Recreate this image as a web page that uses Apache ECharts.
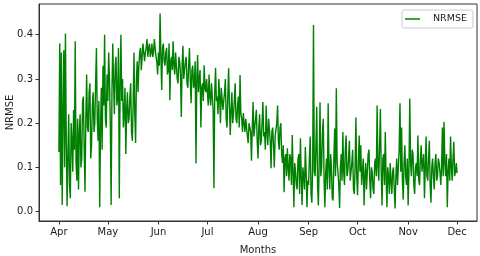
<!DOCTYPE html>
<html>
<head>
<meta charset="utf-8">
<script src="https://cdn.jsdelivr.net/npm/echarts@6/dist/echarts.min.js"></script>
<style>html,body{margin:0;padding:0;background:#fff}#c{width:480px;height:256px}</style>
</head>
<body>
<div id="c"></div>
<script>
// NRMSE values, two readings per day (index 0 = Apr 1, step = half a day)
var apr = [0.135,0.38, 0.06,0.36, 0.015,0.22, 0.365,0.10, 0.403,0.17, 0.012,0.12, 0.22,0.06, 0.03,0.20, 0.16,0.09, 0.23,0.14,
           0.385,0.11, 0.07,0.21, 0.05,0.18, 0.22,0.10, 0.12,0.25, 0.26,0.14, 0.045,0.21, 0.31,0.19, 0.18,0.27, 0.29,0.12,
           0.15,0.24, 0.27,0.18, 0.20,0.29, 0.37,0.21, 0.16,0.25, 0.01,0.19, 0.28,0.14, 0.33,0.24, 0.40,0.21, 0.19,0.31];
var may = [0.25,0.36, 0.30,0.20, 0.015,0.27, 0.38,0.29, 0.22,0.33, 0.35,0.24, 0.26,0.37, 0.03,0.28, 0.40,0.25, 0.30,0.19,
           0.22,0.28, 0.13,0.23, 0.27,0.20, 0.21,0.26, 0.29,0.18, 0.16,0.24, 0.36,0.22, 0.155,0.30, 0.34,0.27, 0.33,0.36,
           0.37,0.32, 0.35,0.38, 0.38,0.34, 0.36,0.37, 0.39,0.35, 0.37,0.38, 0.35,0.36, 0.38,0.35, 0.36,0.39, 0.39,0.35, 0.34,0.31];
var jun = [0.36,0.33, 0.448,0.35, 0.275,0.37, 0.38,0.34, 0.33,0.36, 0.37,0.31, 0.32,0.38, 0.252,0.34, 0.35,0.32, 0.385,0.33,
           0.31,0.36, 0.36,0.30, 0.29,0.35, 0.34,0.31, 0.214,0.33, 0.375,0.30, 0.30,0.34, 0.35,0.29, 0.28,0.33, 0.37,0.30,
           0.245,0.32, 0.33,0.28, 0.29,0.34, 0.109,0.30, 0.354,0.27, 0.30,0.32, 0.19,0.28, 0.29,0.25, 0.331,0.28, 0.27,0.30];
var jul = [0.27,0.24, 0.31,0.26, 0.24,0.29, 0.29,0.23, 0.053,0.27, 0.325,0.25, 0.26,0.22, 0.30,0.26, 0.20,0.28, 0.28,0.23,
           0.23,0.27, 0.30,0.21, 0.19,0.26, 0.324,0.24, 0.173,0.23, 0.27,0.20, 0.22,0.25, 0.29,0.21, 0.20,0.24, 0.26,0.19,
           0.309,0.22, 0.21,0.18, 0.223,0.20, 0.18,0.21, 0.21,0.17, 0.155,0.20, 0.20,0.18, 0.115,0.19, 0.248,0.17, 0.19,0.21, 0.23,0.16];
var aug = [0.12,0.19, 0.22,0.15, 0.16,0.20, 0.248,0.17, 0.18,0.14, 0.24,0.18, 0.15,0.21, 0.21,0.16, 0.098,0.18, 0.19,0.15,
           0.10,0.17, 0.17,0.20, 0.24,0.16, 0.14,0.19, 0.20,0.13, 0.11,0.15, 0.044,0.12, 0.13,0.08, 0.143,0.10, 0.07,0.13,
           0.12,0.06, 0.173,0.09, 0.01,0.11, 0.09,0.06, 0.05,0.12, 0.13,0.04, 0.166,0.08, 0.015,0.10, 0.08,0.05, 0.146,0.09, 0.01,0.07];
var sep = [0.06,0.12, 0.17,0.04, 0.02,0.10, 0.422,0.09, 0.08,0.15, 0.237,0.06, 0.014,0.11, 0.247,0.08, 0.10,0.18, 0.21,0.07,
           0.01,0.09, 0.12,0.05, 0.245,0.10, 0.05,0.13, 0.10,0.03, 0.025,0.12, 0.188,0.08, 0.279,0.11, 0.09,0.06, 0.008,0.10,
           0.13,0.07, 0.18,0.09, 0.06,0.14, 0.172,0.08, 0.09,0.12, 0.16,0.07, 0.07,0.11, 0.14,0.05, 0.04,0.10, 0.213,0.08];
var oct = [0.037,0.11, 0.172,0.09, 0.15,0.06, 0.06,0.12, 0.014,0.08, 0.11,0.05, 0.05,0.13, 0.14,0.07, 0.03,0.10, 0.09,0.05,
           0.04,0.11, 0.12,0.08, 0.24,0.10, 0.07,0.15, 0.232,0.09, 0.014,0.12, 0.13,0.06, 0.18,0.08, 0.01,0.10, 0.08,0.04,
           0.11,0.07, 0.04,0.09, 0.10,0.05, 0.007,0.08, 0.12,0.06, 0.06,0.14, 0.245,0.09, 0.19,0.07, 0.027,0.11, 0.15,0.08, 0.06,0.12];
var nov = [0.014,0.09, 0.256,0.11, 0.08,0.14, 0.13,0.06, 0.04,0.10, 0.11,0.08, 0.172,0.07, 0.06,0.12, 0.15,0.09, 0.09,0.13,
           0.03,0.10, 0.17,0.08, 0.07,0.12, 0.16,0.06, 0.02,0.10, 0.12,0.08, 0.05,0.11, 0.13,0.07, 0.08,0.12, 0.11,0.09,
           0.06,0.10, 0.19,0.08, 0.203,0.11, 0.08,0.13, 0.01,0.09, 0.12,0.07, 0.17,0.10, 0.07,0.12, 0.158,0.08, 0.09,0.11];
var dec = [0.087];

var monthLabels = ['Apr','May','Jun','Jul','Aug','Sep','Oct','Nov','Dec'];
var monthStarts = [0,30,61,91,122,153,183,214,244];
var yTicks = [0.0,0.1,0.2,0.3,0.4];

var all = [].concat(apr, may, jun, jul, aug, sep, oct, nov, dec);
var data = all.map(function(v, i){ return [i / 2, v]; });

var font = 'DejaVu Sans';
var txt = '#1a1a1a';
var chart = echarts.init(document.getElementById('c'), null, {renderer:'canvas'});
chart.setOption({
  animation: false,
  backgroundColor: '#fff',
  grid: {left: 39, top: 4, right: 3, bottom: 35, show: true, borderColor: '#333', borderWidth: 1, containLabel: false, outerBoundsMode: 'none'},
  legend: {
    show: true, left: 402, top: 10,
    data: [{name: 'NRMSE', icon: 'rect'}],
    itemWidth: 15, itemHeight: 1.5,
    padding: [4, 6, 4, 3],
    borderColor: '#ccc', borderWidth: 1, borderRadius: 2, backgroundColor: '#fff',
    textStyle: {fontFamily: font, fontSize: 9.5, color: txt, padding: [0,0,0,8]}
  },
  xAxis: {
    type: 'value', min: -12.2, max: 256.2,
    name: 'Months', nameLocation: 'middle', nameGap: 24.5,
    nameTextStyle: {fontFamily: font, fontSize: 10, color: txt},
    axisLine: {show: true, onZero: false, lineStyle: {color: '#333', width: 1}},
    axisTick: {show: true, length: 3.5, customValues: monthStarts, lineStyle: {color: '#333'}},
    axisLabel: {show: true, customValues: monthStarts, margin: 6, fontFamily: font, fontSize: 10, color: txt,
      formatter: function(v){ var k = monthStarts.indexOf(Math.round(v)); return k >= 0 ? monthLabels[k] : ''; }},
    splitLine: {show: false}
  },
  yAxis: {
    type: 'value', min: -0.0213, max: 0.4695,
    name: 'NRMSE', nameLocation: 'middle', nameGap: 24, nameRotate: 90, nameMoveOverlap: false,
    nameTextStyle: {fontFamily: font, fontSize: 10, color: txt},
    axisLine: {show: true, onZero: false, lineStyle: {color: '#333', width: 1}},
    axisTick: {show: true, length: 3.5, customValues: yTicks, lineStyle: {color: '#333'}},
    axisLabel: {show: true, customValues: yTicks, margin: 6, fontFamily: font, fontSize: 10, color: txt,
      formatter: function(v){ return v.toFixed(1); }},
    splitLine: {show: false}
  },
  series: [{
    name: 'NRMSE', type: 'line', data: data,
    showSymbol: false, symbol: 'none',
    lineStyle: {color: '#008000', width: 1.4},
    itemStyle: {color: '#008000'}
  }]
});
</script>
</body>
</html>
